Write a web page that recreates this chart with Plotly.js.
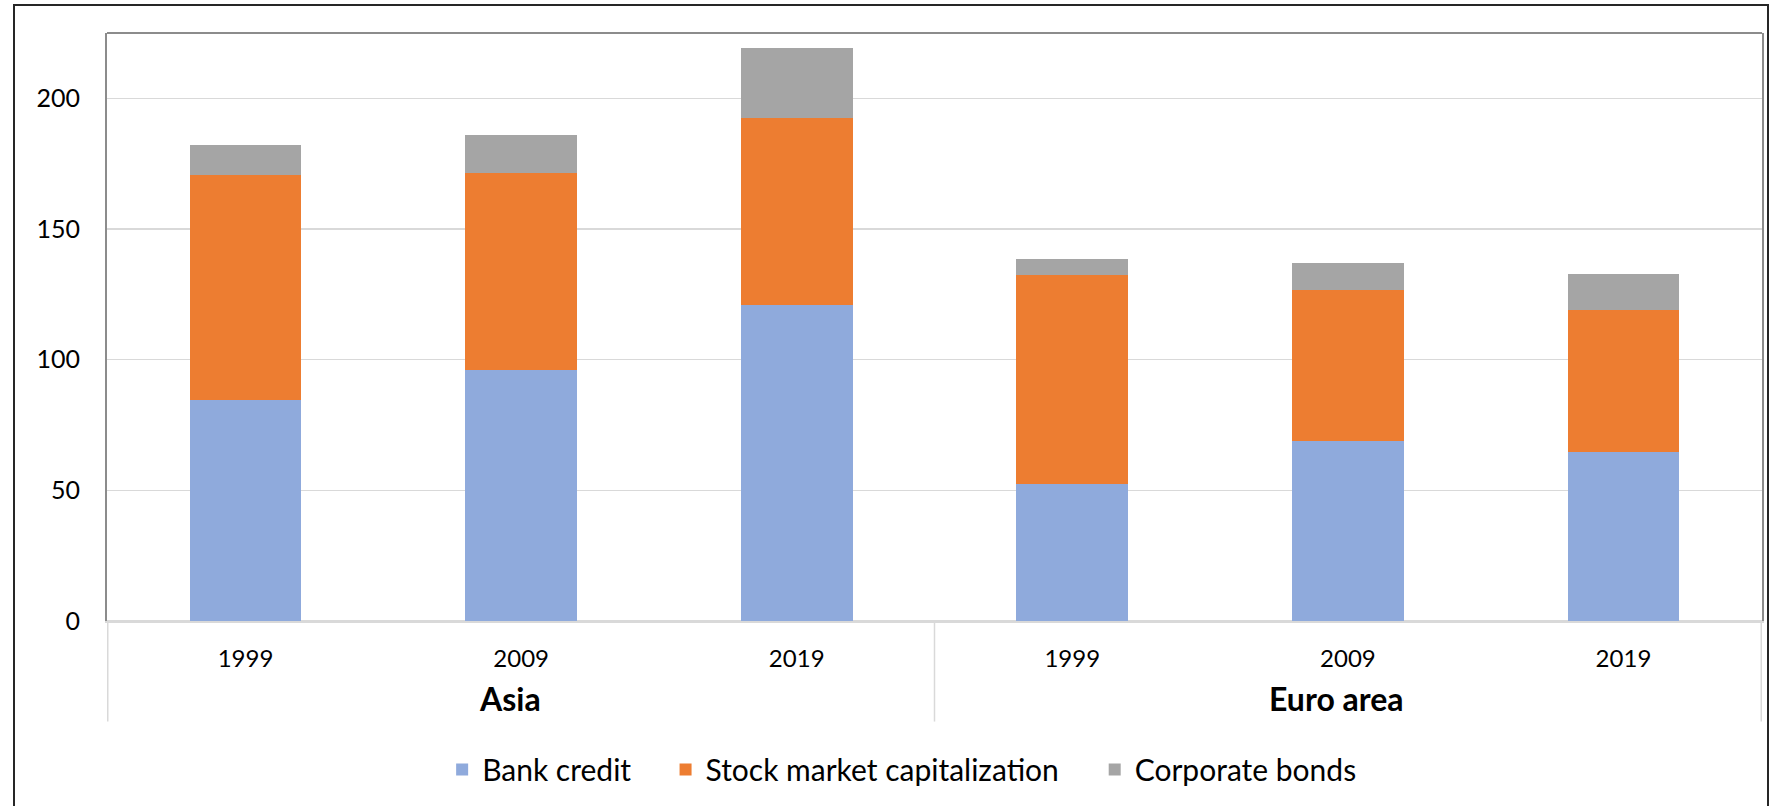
<!DOCTYPE html>
<html>
<head>
<meta charset="utf-8">
<script src="https://cdn.plot.ly/plotly-3.0.1.min.js"></script>
<style>
  html, body { margin: 0; padding: 0; background: #ffffff; overflow: hidden; }
  #chart { width: 1773px; height: 806px; position: absolute; left: 0; top: 0; }
  #frame { position: absolute; left: 13px; top: 4px; width: 1756px; height: 900px; border: 2px solid #262626; pointer-events: none; box-sizing: border-box; }
</style>
</head>
<body>
<div id="chart"></div>
<div id="frame"></div>
<script>
const regions = ["Asia", "Asia", "Asia", "Euro area", "Euro area", "Euro area"];
const years = ["1999", "2009", "2019", "1999", "2009", "2019"];
const bankCredit = [84.5, 96.0, 121.1, 52.5, 68.7, 64.5];
const stockMarketCap = [86.0, 75.3, 71.3, 79.9, 58.1, 54.6];
const corporateBonds = [11.5, 14.7, 26.7, 6.1, 10.1, 13.6];
const seriesNames = ["Bank credit", "Stock market capitalization", "Corporate bonds"];
const yTicks = [0, 50, 100, 150, 200];

const FONT = "Lato, 'Open Sans', sans-serif";

// unique category keys (region + year), shown with the year as tick text
const cats = regions.map((r, i) => r + " " + years[i]);

const colors = ["#8faadc", "#ed7d31", "#a5a5a5"];
const values = [bankCredit, stockMarketCap, corporateBonds];
const legendIds = ["legend", "legend2", "legend3"];
const legendX = [0.2025, 0.3375, 0.5968];

const traces = values.map((v, i) => ({
  type: "bar",
  x: cats,
  y: v,
  name: seriesNames[i],
  legend: legendIds[i],
  marker: { color: colors[i], line: { width: 0 } },
  hoverinfo: "name+y"
}));

// group labels and dividers derived from the region array
const groups = [];
regions.forEach((r, i) => {
  const g = groups.find(gg => gg.name === r);
  if (g) { g.last = i; } else { groups.push({ name: r, first: i, last: i }); }
});

const annotations = groups.map(g => ({
  xref: "x", yref: "paper",
  x: (g.first + g.last) / 2, y: -0.1322,
  xshift: -11,
  yanchor: "middle", xanchor: "center",
  text: "<b>" + g.name + "</b>",
  showarrow: false,
  font: { family: FONT, size: 32, color: "#000000" }
}));

const divX = [groups[0].first - 0.5].concat(groups.map(g => g.last + 0.5));
const shapes = divX.map(xv => ({
  type: "line", xref: "x", yref: "paper",
  x0: xv, x1: xv, y0: 0, y1: -0.171,
  line: { color: "#d9d9d9", width: 1.5 }
}));
shapes.push({ type: "line", xref: "paper", yref: "paper", x0: 0, x1: 1, y0: 1, y1: 1,
  line: { color: "#8c8c8c", width: 2 } });

const layout = {
  width: 1773,
  height: 806,
  paper_bgcolor: "#ffffff",
  plot_bgcolor: "#ffffff",
  barmode: "stack",
  bargap: 0.594,
  margin: { l: 107, r: 11, t: 33, b: 183 },
  font: { family: FONT, color: "#000000", size: 24 },
  showlegend: true,
  xaxis: {
    type: "category",
    categoryorder: "array",
    categoryarray: cats,
    tickvals: cats,
    ticktext: years,
    showline: true,
    linecolor: "#d9d9d9",
    linewidth: 1.5,
    showgrid: false,
    zeroline: false,
    ticks: "",
    ticklabelstandoff: 16,
    tickfont: { family: FONT, size: 24, color: "#000000" },
    fixedrange: true
  },
  yaxis: {
    range: [0, 225],
    tickvals: yTicks,
    ticktext: yTicks.map(String),
    showgrid: true,
    gridcolor: "#d9d9d9",
    gridwidth: 1.5,
    zeroline: true,
    zerolinecolor: "#d9d9d9",
    zerolinewidth: 1.5,
    showline: true,
    linecolor: "#8c8c8c",
    linewidth: 2,
    mirror: true,
    ticks: "",
    ticklabelstandoff: 20,
    tickfont: { family: FONT, size: 25, color: "#000000" },
    fixedrange: true
  },
  annotations: annotations,
  shapes: shapes
};

legendIds.forEach((id, i) => {
  layout[id] = {
    orientation: "h",
    x: legendX[i],
    xanchor: "left",
    y: -0.2525,
    yanchor: "middle",
    bgcolor: "rgba(0,0,0,0)",
    font: { family: FONT, size: 30, color: "#000000" },
    itemwidth: 30
  };
});

Plotly.newPlot("chart", traces, layout, { displayModeBar: false, staticPlot: true });
</script>
</body>
</html>
